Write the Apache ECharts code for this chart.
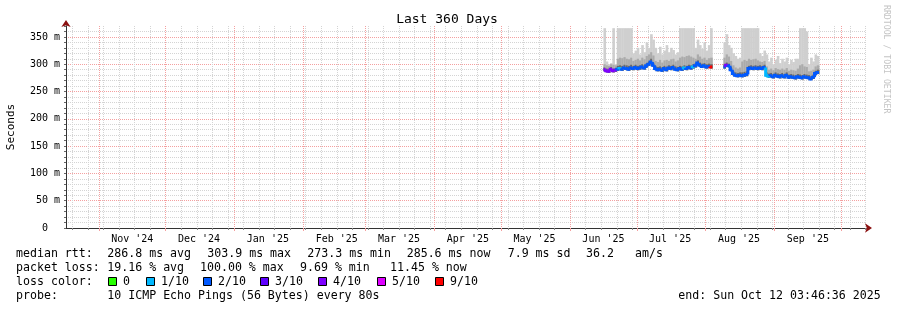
<!DOCTYPE html>
<html><head><meta charset="utf-8">
<script src="https://cdn.jsdelivr.net/npm/echarts@6/dist/echarts.min.js"></script>
<style>html,body{margin:0;padding:0;background:#fff}#c{width:897px;height:310px}</style>
</head><body><div id="c"></div>
<script>
// ---- time range ----
const startTime = Date.UTC(2024, 9, 17, 3, 46, 36);
const endTime = Date.UTC(2025, 9, 12, 3, 46, 36);
const DAY = 86400000;

// ---- month grid / labels ----
const monthStarts = ['2024-11-01','2024-12-01','2025-01-01','2025-02-01','2025-03-01','2025-04-01','2025-05-01','2025-06-01','2025-07-01','2025-08-01','2025-09-01','2025-10-01'];
const monthLabelDates = ['2024-11-16','2024-12-16','2025-01-16','2025-02-16','2025-03-16','2025-04-16','2025-05-16','2025-06-16','2025-07-16','2025-08-16','2025-09-16'];
const monthLabels = ["Nov '24","Dec '24","Jan '25","Feb '25","Mar '25","Apr '25","May '25","Jun '25","Jul '25","Aug '25","Sep '25"];
const firstWeekLine = '2024-10-20';

// ---- y axis ----
const yMax = 370;
const yStep = 10;

// ---- segment 1 (daily, from 2025-06-16) ----
const seg1Start = '2025-06-16';
const seg1Median = [290,288,287,291,288,289, 291,292,291,293,292,291,293,292,294,292, 293,295,293,297,300,304,298,292,290,291, 289,292,290,293,292,294,291,290,292,291, 293,292,294,293,295,297,302,298,296,297, 295,296,295];
const seg1Loss   = [4,4,4,4,4,4, 2,1,2,2,2,2,2,2,2,2, 2,2,2,2,2,2,2,2,2,2, 2,2,2,2,2,2,2,2,2,2, 1,2,2,2,1,2,2,2,2,2, 2,2,9];
const seg1Lo     = [287,285,284,288,285,286, 288,289,288,290,289,288,290,289,291,289, 290,292,290,294,297,301,295,289,287,288, 286,289,287,290,289,291,288,287,289,288, 290,289,291,290,292,294,299,295,293,294, 292,293,292];
const seg1Dark   = [294,292,291,295,292,293, 297,298,297,299,298,297,299,297,299,297, 298,300,298,302,305,310,303,297,295,296, 294,297,295,298,297,299,296,295,297,296, 298,297,299,298,300,302,307,303,301,302, 300,301,300];
const seg1Mid    = [300,298,297,300,299,298, 310,312,311,313,310,309,312,306,308,310, 307,312,309,315,318,322,316,306,304,308, 303,307,308,306,309,310,305,307,312,314, 313,315,316,314,312,310,318,314,310,312, 308,311,312];
const seg1Hi     = [366,305,300,302,366,300, 366,366,366,366,366,366,366,320,325,330, 318,335,322,340,330,355,345,330,320,332, 318,325,335,322,330,326,318,322,366,366, 366,366,366,366,366,330,345,335,328,340, 325,335,366];

// ---- segment 2 (daily, from 2025-08-09) ----
const seg2Start = '2025-08-09';
const seg2Median = [295,298,297,290,283,280,279,280,279,280, 281,292,293,292,293,292,293,292,294,280, 278,279,277,280,278,277,279,277,280,276, 277,276,275,277,276,275,277,276,275,273, 276,283,285];
const seg2Loss   = [2,4,2,2,2,2,2,2,2,2, 2,2,2,2,2,2,2,2,2,1, 1,2,2,2,2,2,2,2,2,2, 2,2,2,2,2,2,2,2,2,2, 2,2,2];
const seg2Lo     = [292,295,294,287,280,277,276,277,276,277, 278,289,290,289,290,289,290,289,291,277, 275,276,274,277,275,274,276,274,277,273, 274,273,272,274,273,272,274,273,272,271, 273,280,282];
const seg2Dark   = [300,303,301,295,288,285,284,285,285,286, 287,297,298,297,298,297,298,297,299,285, 283,284,282,285,283,282,284,282,285,281, 282,281,280,282,281,280,282,281,280,278, 281,288,290];
const seg2Mid    = [312,318,314,306,298,294,292,294,305,308, 306,310,308,309,310,307,305,304,306,296, 290,292,289,293,291,290,292,290,293,288, 290,289,288,292,298,300,296,295,287,288, 290,296,298];
const seg2Hi     = [340,355,335,330,320,315,310,312,366,366, 366,366,366,366,366,366,320,315,325,318, 305,312,300,308,315,302,310,305,312,300, 308,304,310,310,366,366,366,360,300,312, 305,318,315];

// ---- legend ----
const lossLevels = [0,1,2,3,4,5,9];
const lossNames = ['0','1/10','2/10','3/10','4/10','5/10','9/10'];
const lossColorList = ['#26ff00','#00b8ff','#0059ff','#5e00ff','#7e00ff','#dd00ff','#ff0000'];
const medianStats = ['286.8 ms avg','303.9 ms max','273.3 ms min','285.6 ms now','7.9 ms sd','36.2','am/s'];
const lossStats = ['19.16 % avg','100.00 % max','9.69 % min','11.45 % now'];
const probeText = '10 ICMP Echo Pings (56 Bytes) every 80s';
const endText = 'end: Sun Oct 12 03:46:36 2025';

// ---- helpers ----
function utc(s){ const p = s.split('-').map(Number); return Date.UTC(p[0], p[1]-1, p[2]); }
function lossColor(l){ return lossColorList[lossLevels.indexOf(l)]; }

const monthStartTimes = monthStarts.map(utc);
const monthLabelTimes = monthLabelDates.map(utc);
const weekTimes = [];
for (let t = utc(firstWeekLine); t <= endTime; t += 7*DAY) weekTimes.push(t);

function buildSmoke(start, lo, dark, mid, hi){
  const t0 = utc(start);
  return hi.map((h,i)=>[t0 + i*DAY, lo[i], dark[i], mid[i], h]);
}
function buildMedian(start, med, loss){
  const t0 = utc(start);
  return med.map((m,i)=>[t0 + i*DAY, m, loss[i], i>0 ? med[i-1] : m]);
}
const smokeData = buildSmoke(seg1Start, seg1Lo, seg1Dark, seg1Mid, seg1Hi)
  .concat(buildSmoke(seg2Start, seg2Lo, seg2Dark, seg2Mid, seg2Hi));
const medianData = [buildMedian(seg1Start, seg1Median, seg1Loss), buildMedian(seg2Start, seg2Median, seg2Loss)];

const FONT = 'DejaVu Sans Mono';

function renderSmoke(params, api){
  const t = api.value(0);
  const x0 = api.coord([t, 0])[0];
  const x1 = api.coord([t + DAY, 0])[0];
  const w = x1 - x0 + 0.4;
  const yLo = api.coord([t, api.value(1)])[1];
  const yD = api.coord([t, api.value(2)])[1];
  const yM = api.coord([t, api.value(3)])[1];
  const yH = api.coord([t, api.value(4)])[1];
  return {type:'group', children:[
    {type:'rect', shape:{x:x0, y:yH, width:w, height:yLo-yH}, style:{fill:'#cfcfcf'}},
    {type:'rect', shape:{x:x0, y:yM, width:w, height:yLo-yM}, style:{fill:'#ababab'}},
    {type:'rect', shape:{x:x0, y:yD, width:w, height:yLo-yD}, style:{fill:'#6a6a6a'}}
  ]};
}
function renderMedian(params, api){
  const t = api.value(0);
  const p0 = api.coord([t, api.value(3)]);
  const p1 = api.coord([t, api.value(1)]);
  const p2 = api.coord([t + DAY, api.value(1)]);
  return {type:'polyline', shape:{points:[p0, p1, p2]},
    style:{stroke: lossColor(api.value(2)), lineWidth:3, fill:null, lineJoin:'miter', lineCap:'butt'}};
}

// y split line colours: majors every 50 red, minors grey, top line hidden
const yTickCount = yMax / yStep + 1;
const ySplitColors = [];
for (let i = 0; i < yTickCount; i++) {
  ySplitColors.push(i === yTickCount - 1 ? 'rgba(0,0,0,0)' : (i % 5 === 0 ? '#f4a0a0' : '#d4d4d4'));
}

// legend graphics
const graphics = [];
const rowY = [254, 268, 282, 296];
const legendFont = '11.6px ' + FONT;
function txt(x, y, s){
  graphics.push({type:'text', x:x, y:y, style:{text:s, font:legendFont, fill:'#000', textVerticalAlign:'middle'}});
}
txt(16, rowY[0], 'median rtt:');
[107.3, 207.3, 307.3, 406.7, 507.7, 586, 635].forEach((x,i)=>txt(x, rowY[0], medianStats[i]));
txt(16, rowY[1], 'packet loss:');
[107.3, 200, 300, 390].forEach((x,i)=>txt(x, rowY[1], lossStats[i]));
txt(16, rowY[2], 'loss color:');
const swatchX = [108, 146, 203, 260, 318, 377, 435];
swatchX.forEach((x,i)=>{
  graphics.push({type:'rect', shape:{x:x+0.5, y:rowY[2]-4.5, width:8, height:8},
    style:{fill:lossColorList[i], stroke:'#000', lineWidth:1}});
  txt(x+15, rowY[2], lossNames[i]);
});
txt(16, rowY[3], 'probe:');
txt(107.3, rowY[3], probeText);
txt(678.3, rowY[3], endText);
graphics.push({type:'text', x:447, y:20, style:{text:'Last 360 Days', font:'13px '+FONT, fill:'#000', textAlign:'center', textVerticalAlign:'middle'}});
graphics.push({type:'text', x:886, y:5, rotation:-Math.PI/2,
  style:{text:'RRDTOOL / TOBI OETIKER', font:'8.2px '+FONT, fill:'#c4c4c4', textAlign:'left', textVerticalAlign:'middle'}});

const chart = echarts.init(document.getElementById('c'), null, {renderer:'canvas'});
chart.setOption({
  backgroundColor:'#fff',
  animation:false,
  grid:{left:66, top:26, width:800, height:202, containLabel:false, outerBoundsMode:'none'},
  xAxis:[
    { // weekly grid + red arrow underlay
      type:'value', min:startTime, max:endTime, position:'bottom',
      axisLine:{show:true, onZero:false, symbol:['none','arrow'], symbolSize:[7,7], symbolOffset:[0,6],
        lineStyle:{color:'#8b1010', width:1}},
      axisTick:{show:true, customValues:weekTimes, length:2, lineStyle:{color:'#888'}},
      axisLabel:{show:false},
      splitLine:{show:true, lineStyle:{color:'#d4d4d4', type:[1,1], width:1}}
    },
    { // month grid + labels
      type:'value', min:startTime, max:endTime, position:'bottom',
      axisLine:{show:true, onZero:false, lineStyle:{color:'#333', width:1}},
      axisTick:{show:true, customValues:monthStartTimes, length:3, lineStyle:{color:'#f4a0a0'}},
      axisLabel:{show:true, customValues:monthLabelTimes, margin:6, color:'#000',
        fontFamily:FONT, fontSize:10,
        formatter:(v)=>{ const i = monthLabelTimes.indexOf(v); return i>=0 ? monthLabels[i] : ''; }},
      splitLine:{show:true, lineStyle:{color:'#f4a0a0', type:[1,1], width:1}}
    }
  ],
  yAxis:[
    { // red arrow underlay
      type:'value', min:0, max:yMax, position:'left',
      axisLine:{show:true, onZero:false, symbol:['none','arrow'], symbolSize:[7,7], symbolOffset:[0,6],
        lineStyle:{color:'#8b1010', width:1}},
      axisTick:{show:false}, axisLabel:{show:false}, splitLine:{show:false}
    },
    {
      type:'value', min:0, max:yMax, interval:yStep, position:'left',
      name:'Seconds', nameLocation:'middle', nameGap:49, nameRotate:90,
      nameTextStyle:{fontFamily:FONT, fontSize:11, color:'#000'},
      axisLine:{show:true, onZero:false, lineStyle:{color:'#333'}},
      axisTick:{show:true, length:2, lineStyle:{color:'#666'}},
      axisLabel:{show:true, margin:6, color:'#000', fontFamily:FONT, fontSize:10,
        formatter:(v)=> (v % 50 !== 0) ? '' : (v === 0 ? '0  ' : v + ' m')},
      splitLine:{show:true, lineStyle:{color:ySplitColors, type:[1,1], width:1}}
    }
  ],
  series:[
    {type:'custom', name:'smoke', xAxisIndex:1, yAxisIndex:1, renderItem:renderSmoke,
      data:smokeData, encode:{x:0, y:[1,2,3,4]}, clip:true, silent:true, z:2},
    {type:'custom', name:'median1', xAxisIndex:1, yAxisIndex:1, renderItem:renderMedian,
      data:medianData[0], encode:{x:0, y:[1,3]}, clip:true, silent:true, z:3},
    {type:'custom', name:'median2', xAxisIndex:1, yAxisIndex:1, renderItem:renderMedian,
      data:medianData[1], encode:{x:0, y:[1,3]}, clip:true, silent:true, z:3}
  ],
  graphic:graphics
});
</script>
</body></html>
